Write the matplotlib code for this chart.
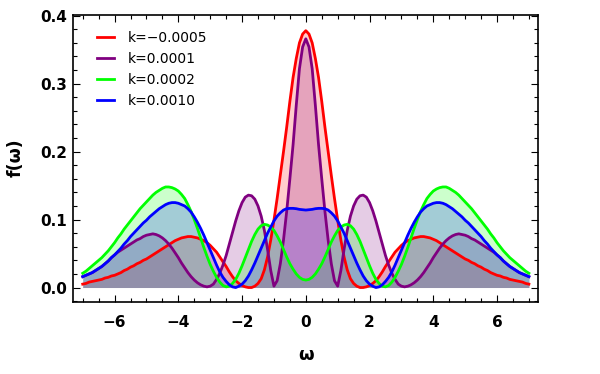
import numpy as np
import matplotlib
matplotlib.use("Agg")
import matplotlib.pyplot as plt
from matplotlib.ticker import MultipleLocator, FormatStrFormatter

# sample positions (omega, step 0.1) and values
omega = np.linspace(-7, 7, 141)

f_red = [0.005,
         0.006,0.008,0.009,0.010,0.011,0.012,0.014,0.015,0.017,0.018,
         0.020,0.022,0.025,0.027,0.030,0.032,0.035,0.037,0.040,0.042,
         0.045,0.048,0.051,0.054,0.057,0.060,0.063,0.066,0.069,0.071,
         0.073,0.074,0.075,0.075,0.074,0.073,0.071,0.069,0.066,0.062,
         0.057,0.052,0.045,0.038,0.031,0.023,0.016,0.010,0.006,0.003,
         0.001,0.000,0.000,0.002,0.006,0.013,0.026,0.045,0.070,0.099,
         0.131,0.165,0.200,0.236,0.274,0.309,0.337,0.360,0.373,
         0.378,
         0.373,0.360,0.337,0.309,0.274,0.236,0.200,0.165,0.131,
         0.099,0.070,0.045,0.026,0.013,0.006,0.002,0.000,0.000,0.001,
         0.003,0.006,0.010,0.016,0.023,0.031,0.038,0.045,0.052,0.057,
         0.062,0.066,0.069,0.071,0.073,0.074,0.075,0.075,0.074,0.073,
         0.071,0.069,0.066,0.063,0.060,0.057,0.054,0.051,0.048,0.045,
         0.042,0.040,0.037,0.035,0.032,0.030,0.027,0.025,0.022,0.020,
         0.018,0.017,0.015,0.014,0.012,0.011,0.010,0.009,0.008,0.006,
         0.005]

f_purple = [0.016,
            0.018,0.020,0.022,0.025,0.028,0.031,0.035,0.039,0.044,0.048,
            0.052,0.055,0.058,0.061,0.064,0.067,0.070,0.072,0.075,0.077,
            0.078,0.079,0.078,0.076,0.073,0.069,0.064,0.058,0.051,0.044,
            0.036,0.029,0.022,0.016,0.011,0.007,0.004,0.002,0.001,0.002,
            0.005,0.012,0.021,0.033,0.047,0.064,0.081,0.098,0.113,0.125,
            0.133,0.136,0.135,0.130,0.120,0.105,0.084,0.056,0.025,0.002,
            0.010,0.035,0.070,0.112,0.160,0.210,0.268,0.322,0.354,
            0.366,
            0.354,0.322,0.268,0.210,0.160,0.112,0.070,0.035,0.010,
            0.002,0.025,0.056,0.084,0.105,0.120,0.130,0.135,0.136,0.133,
            0.125,0.113,0.098,0.081,0.064,0.047,0.033,0.021,0.012,0.005,
            0.002,0.001,0.002,0.004,0.007,0.011,0.016,0.022,0.029,0.036,
            0.044,0.051,0.058,0.064,0.069,0.073,0.076,0.078,0.079,0.078,
            0.077,0.075,0.072,0.070,0.067,0.064,0.061,0.058,0.055,0.052,
            0.048,0.044,0.039,0.035,0.031,0.028,0.025,0.022,0.020,0.018,
            0.016]

f_green = [0.021,
           0.024,0.028,0.032,0.036,0.040,0.044,0.049,0.054,0.060,0.066,
           0.073,0.079,0.086,0.092,0.098,0.104,0.110,0.116,0.121,0.126,
           0.131,0.136,0.140,0.143,0.146,0.148,0.148,0.147,0.145,0.142,
           0.137,0.131,0.122,0.112,0.100,0.087,0.073,0.059,0.046,0.034,
           0.024,0.015,0.008,0.003,0.001,0.002,0.006,0.012,0.021,0.032,
           0.044,0.056,0.068,0.078,0.086,0.091,0.093,0.092,0.089,0.084,
           0.076,0.067,0.056,0.045,0.035,0.027,0.020,0.015,0.012,
           0.011,
           0.012,0.015,0.020,0.027,0.035,0.045,0.056,0.067,0.076,
           0.084,0.089,0.092,0.093,0.091,0.086,0.078,0.068,0.056,0.044,
           0.032,0.021,0.012,0.006,0.002,0.001,0.003,0.008,0.015,0.024,
           0.034,0.046,0.059,0.073,0.087,0.100,0.112,0.122,0.131,0.137,
           0.142,0.145,0.147,0.148,0.148,0.146,0.143,0.140,0.136,0.131,
           0.126,0.121,0.116,0.110,0.104,0.098,0.092,0.086,0.079,0.073,
           0.066,0.060,0.054,0.049,0.044,0.040,0.036,0.032,0.028,0.024,
           0.021]

f_blue = [0.016,
          0.018,0.020,0.022,0.025,0.028,0.031,0.035,0.039,0.044,0.048,
          0.053,0.058,0.064,0.069,0.075,0.080,0.085,0.090,0.095,0.099,
          0.104,0.108,0.112,0.116,0.119,0.122,0.124,0.125,0.125,0.124,
          0.122,0.120,0.116,0.111,0.104,0.096,0.087,0.077,0.066,0.055,
          0.044,0.033,0.023,0.015,0.009,0.004,0.001,0.000,0.002,0.005,
          0.010,0.017,0.026,0.036,0.047,0.058,0.069,0.080,0.089,0.098,
          0.105,0.110,0.114,0.116,0.1165,0.1165,0.116,0.115,0.1145,
          0.114,
          0.1145,0.115,0.116,0.1165,0.1165,0.116,0.114,0.110,0.105,
          0.098,0.089,0.080,0.069,0.058,0.047,0.036,0.026,0.017,0.010,
          0.005,0.002,0.000,0.001,0.004,0.009,0.015,0.023,0.033,0.044,
          0.055,0.066,0.077,0.087,0.096,0.104,0.111,0.116,0.120,0.122,
          0.124,0.125,0.125,0.124,0.122,0.119,0.116,0.112,0.108,0.104,
          0.099,0.095,0.090,0.085,0.080,0.075,0.069,0.064,0.058,0.053,
          0.048,0.044,0.039,0.035,0.031,0.028,0.025,0.022,0.020,0.018,
          0.016]

labels = ["k=\u22120.0005", "k=0.0001", "k=0.0002", "k=0.0010"]
colors = ["#ff0000", "#800080", "#00ff00", "#0000ff"]
series = [f_red, f_purple, f_green, f_blue]
for s in series:
    assert len(s) == len(omega), len(s)

x_ticks = [-6, -4, -2, 0, 2, 4, 6]
y_ticks = [0.0, 0.1, 0.2, 0.3, 0.4]

fig = plt.figure(figsize=(6, 3.74), dpi=100)
ax = fig.add_axes([73/600, 1-302/374, 464.7/600, 287.3/374])

for ys, c in zip(series, colors):
    ax.fill_between(omega, 0, ys, color=c, alpha=0.2, linewidth=0, zorder=1)
for ys, c, lab in zip(series, colors, labels):
    ax.plot(omega, ys, color=c, lw=2.0, label=lab, zorder=3, solid_joinstyle="round")

ax.set_xlim(-7.305, 7.276)
ax.set_ylim(-0.0213, 0.4015)
ax.set_xticks(x_ticks)
ax.set_yticks(y_ticks)
ax.xaxis.set_minor_locator(MultipleLocator(0.5))
ax.yaxis.set_minor_locator(MultipleLocator(0.02))
ax.yaxis.set_major_formatter(FormatStrFormatter("%.1f"))

ax.tick_params(which="both", direction="in", top=True, right=True, width=0.8)
ax.tick_params(which="major", length=5)
ax.tick_params(which="minor", length=3)
ax.tick_params(axis="x", which="major", pad=9.5)
ax.tick_params(axis="y", which="major", pad=4)
for lab in ax.get_xticklabels() + ax.get_yticklabels():
    lab.set_fontweight("bold")
    lab.set_fontsize(11)
for t in (ax.xaxis.get_major_ticks() + ax.xaxis.get_minor_ticks() +
          ax.yaxis.get_major_ticks() + ax.yaxis.get_minor_ticks()):
    t.tick2line.set_color("#999999")
for sp in ax.spines.values():
    sp.set_linewidth(1.2)

leg = ax.legend(loc="upper left", bbox_to_anchor=(0.0516, 0.943), frameon=False,
                fontsize=10, handlelength=1.25, handletextpad=1.0,
                labelspacing=0.5, borderpad=0, borderaxespad=0)

fig.text(305.8/600, 1-355/374, "\u03c9", ha="center", va="center",
         fontsize=13, fontweight="bold")
fig.text(16/600, 1-158/374, "f(\u03c9)", ha="center", va="center",
         rotation=90, fontsize=12.5, fontweight="bold")

fig.savefig("out.png", dpi=100)
